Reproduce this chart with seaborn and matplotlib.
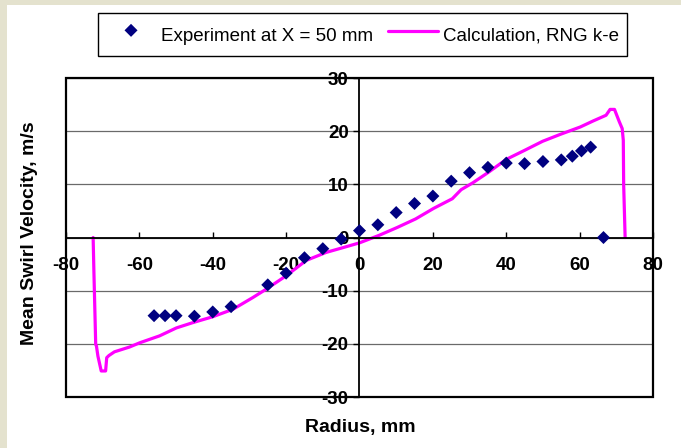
import matplotlib
matplotlib.use('Agg')
import matplotlib.pyplot as plt
from matplotlib.patches import Rectangle
import seaborn as sns

sns.set_style('white')
plt.rcParams['font.family'] = ['Liberation Sans', 'DejaVu Sans']
plt.rcParams['text.color'] = 'black'
plt.rcParams['axes.labelcolor'] = 'black'
plt.rcParams['xtick.color'] = 'black'
plt.rcParams['ytick.color'] = 'black'
plt.rcParams['axes.unicode_minus'] = False

# measured swirl velocity at X = 50 mm
exp_r = [-56, -53, -50, -45, -40, -35, -25, -20, -15, -10, -5, 0, 5, 10, 15, 20,
         25, 30, 35, 40, 45, 50, 55, 58, 60.5, 63, 66.5]
exp_v = [-14.7, -14.7, -14.7, -14.8, -14.0, -13.0, -8.9, -6.7, -3.8, -2.1, -0.3, 1.3,
         2.4, 4.7, 6.4, 7.8, 10.6, 12.2, 13.2, 14.0, 13.9, 14.3, 14.6, 15.3, 16.3, 17.0, 0.0]

# RNG k-e calculation (traced in drawing order)
calc_r = [-72.6, -72.4, -71.9, -71.7, -71.3, -70.4, -69.2, -68.9, -68.3, -66.8, -62.7,
          -59.9, -54.5, -49.9, -45.4, -40, -34.5, -29.1, -25.4, -20, -14.5, -9.1,
          -4.5, 0, 5.3, 10.3, 15.3, 20.25, 25.3, 27.7, 30.9, 35.2, 40, 45, 49.9,
          54.7, 60.2, 63.6, 67.2, 68.3, 69.5, 70.8, 71.6, 71.9, 72.0, 72.4]
calc_v = [0.0, -6.2, -20.1, -20.4, -22.3, -25.1, -25.1, -22.6, -22.2, -21.5, -20.6,
          -19.8, -18.5, -17.0, -16.0, -14.9, -13.5, -11.3, -9.7, -7.2, -4.3, -2.8,
          -1.9, -1.0, 0.4, 1.9, 3.5, 5.5, 7.3, 9.0, 10.3, 12.3, 14.7, 16.4, 18.1,
          19.4, 20.8, 21.9, 23.0, 24.1, 24.1, 21.8, 20.5, 18.3, 10.0, 0.0]

xticks = list(range(-80, 81, 20))
yticks = list(range(-30, 31, 10))

fig = plt.figure(figsize=(6.81, 4.48), dpi=100, facecolor='#E4E2CE')
fig.patches.append(Rectangle((0.0103, 0), 0.99, 0.989, transform=fig.transFigure,
                             facecolor='white', edgecolor='none', zorder=-5))
ax = fig.add_axes([0.0969, 0.1138, 0.862, 0.712])
ax.set_facecolor('white')

sns.scatterplot(x=exp_r, y=exp_v, ax=ax, marker='D', color='#000080', s=44,
                edgecolor='none', label='Experiment at X = 50 mm', zorder=3)
sns.lineplot(x=calc_r, y=calc_v, ax=ax, sort=False, estimator=None, color='#FF00FF',
             lw=2.3, label='Calculation, RNG k-e', zorder=2)

ax.set_xlim(-80, 80)
ax.set_ylim(-30, 30)
ax.set_xticks(xticks)
ax.set_yticks(yticks)
ax.yaxis.grid(True, color='#6a6a6a', lw=0.9)
ax.set_axisbelow(True)

ax.spines['left'].set_position(('data', 0))
ax.spines['bottom'].set_position(('data', 0))
ax.spines['right'].set_visible(False)
ax.spines['top'].set_visible(False)
for s in ('left', 'bottom'):
    ax.spines[s].set_color('black')
    ax.spines[s].set_linewidth(1.3)
ax.add_patch(Rectangle((0, 0), 1, 1, transform=ax.transAxes, fill=False,
                       edgecolor='black', lw=1.6, clip_on=False, zorder=4))

ax.tick_params(axis='x', direction='in', length=4.3, width=1, pad=14, labelsize=13.5)
ax.tick_params(axis='y', direction='out', length=4.3, width=1, pad=3.5, labelsize=13.5)
ax.tick_params(left=True, bottom=True)
for lab in ax.get_xticklabels() + ax.get_yticklabels():
    lab.set_fontweight('bold')

ax.set_xlabel('Radius, mm', fontsize=14, fontweight='bold', va='center')
ax.xaxis.set_label_coords(0.501, -0.097)
ax.set_ylabel('Mean Swirl Velocity, m/s', fontsize=14, fontweight='bold', va='center')
ax.yaxis.set_label_coords(-0.063, 0.514)

handles, labels = ax.get_legend_handles_labels()
if ax.get_legend() is not None:
    ax.get_legend().remove()
leg = fig.legend(handles, labels, loc='center', bbox_to_anchor=(0.5323, 0.923), ncol=2,
                 fontsize=13.5, frameon=True, fancybox=False, shadow=False,
                 handlelength=2.7, handletextpad=0.27, columnspacing=0.75,
                 handleheight=1.85, borderpad=0.4)
leg.get_frame().set_edgecolor('black')
leg.get_frame().set_linewidth(1.0)
leg.get_frame().set_alpha(1)

fig.savefig('out.png', dpi=100, facecolor=fig.get_facecolor())
